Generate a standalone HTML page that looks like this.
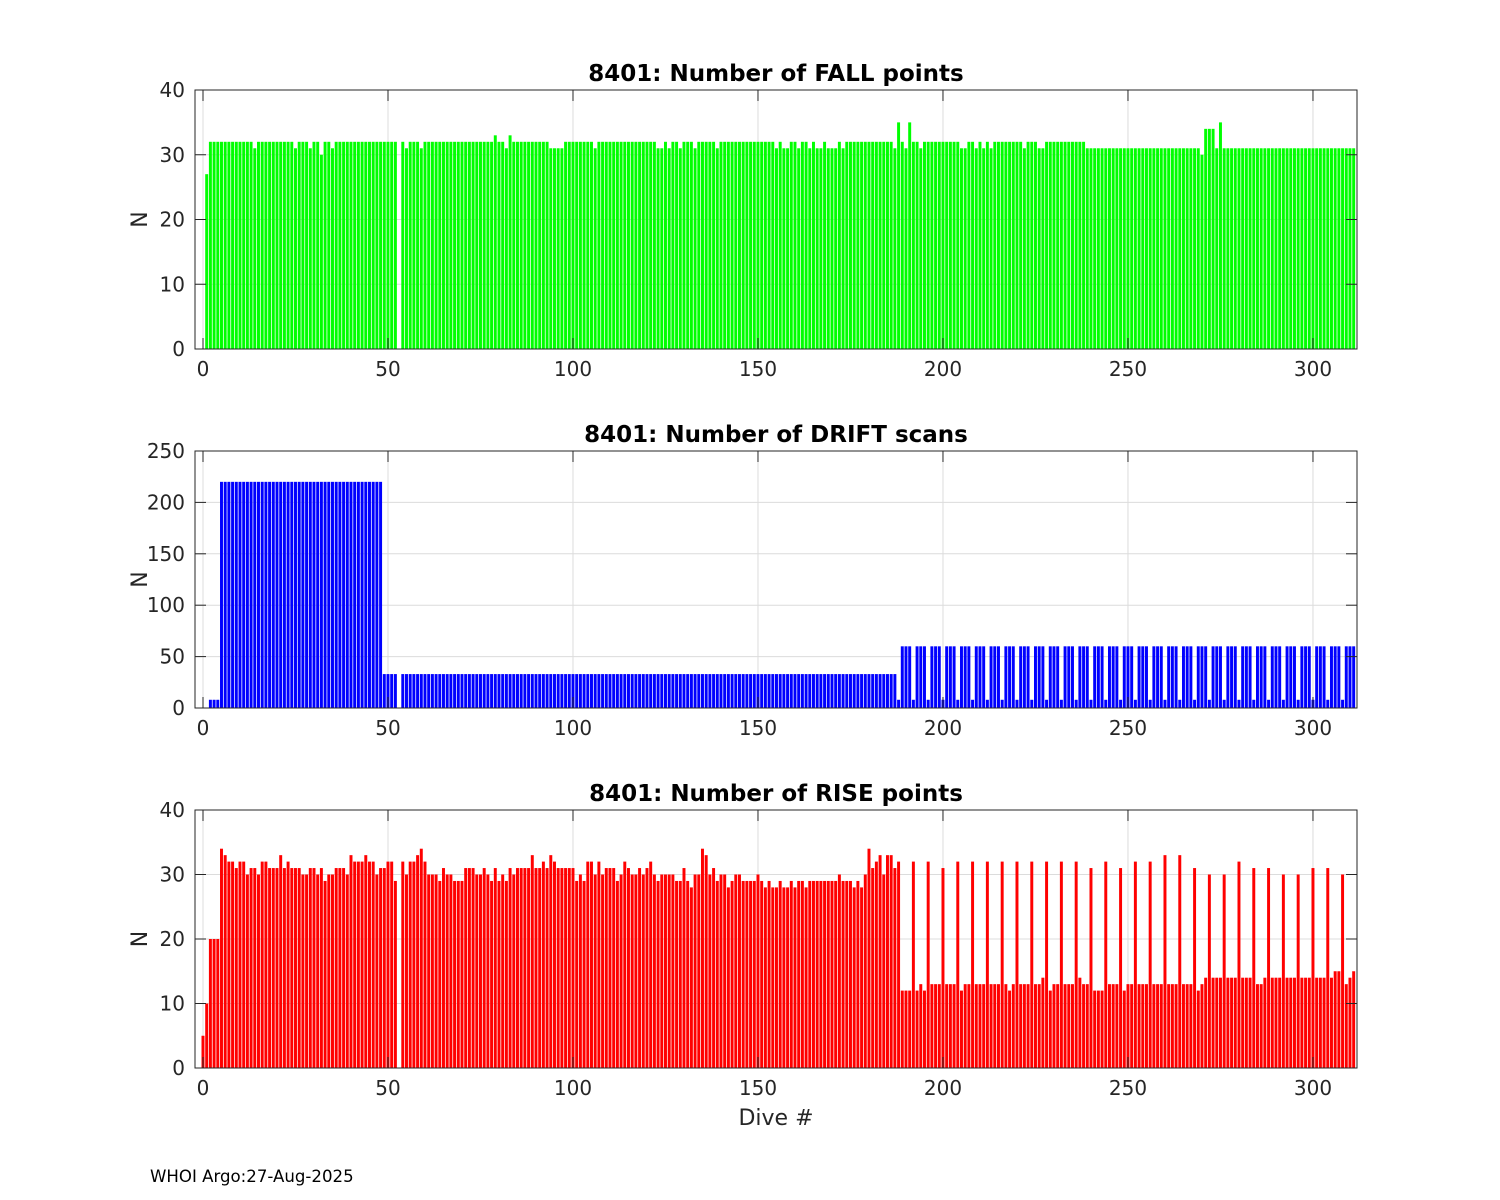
<!DOCTYPE html>
<html><head><meta charset="utf-8"><style>
html,body{margin:0;padding:0;background:#fff;}
svg{display:block;font-family:"DejaVu Sans","Liberation Sans",sans-serif;}
</style></head><body>
<svg id="fig" width="1500" height="1200" viewBox="0 0 1500 1200" xmlns="http://www.w3.org/2000/svg">
<rect x="0" y="0" width="1500" height="1200" fill="#fff"/>
<text x="150" y="1182" font-size="16.6" fill="#000">WHOI Argo:27-Aug-2025</text>
</svg>
<script>
const fallValues = [
0,27,32,32,32,32,32,32,32,32, 32,32,32,32,31,32,32,32,32,32, 32,32,32,32,32,31,32,32,32,31, 32,32,30,32,32,31,32,32,32,32,
32,32,32,32,32,32,32,32,32,32, 32,32,32,0,32,31,32,32,32,31, 32,32,32,32,32,32,32,32,32,32, 32,32,32,32,32,32,32,32,32,33,
32,32,31,33,32,32,32,32,32,32, 32,32,32,32,31,31,31,31,32,32, 32,32,32,32,32,32,31,32,32,32, 32,32,32,32,32,32,32,32,32,32,
32,32,32,31,31,32,31,32,32,31, 32,32,32,31,32,32,32,32,32,31, 32,32,32,32,32,32,32,32,32,32, 32,32,32,32,32,31,32,31,31,32,
32,31,32,32,31,32,31,31,32,31, 31,31,32,31,32,32,32,32,32,32, 32,32,32,32,32,32,32,31,35,32, 31,35,32,32,31,32,32,32,32,32,
32,32,32,32,32,31,31,32,32,31, 32,31,32,31,32,32,32,32,32,32, 32,32,31,32,32,32,31,31,32,32, 32,32,32,32,32,32,32,32,32,31,
31,31,31,31,31,31,31,31,31,31, 31,31,31,31,31,31,31,31,31,31, 31,31,31,31,31,31,31,31,31,31, 30,34,34,34,31,35,31,31,31,31,
31,31,31,31,31,31,31,31,31,31, 31,31,31,31,31,31,31,31,31,31, 31,31,31,31,31,31,31,31,31,31, 31,31];
const driftValues = [
0,0,8,8,8,220,220,220,220,220, 220,220,220,220,220,220,220,220,220,220, 220,220,220,220,220,220,220,220,220,220, 220,220,220,220,220,220,220,220,220,220,
220,220,220,220,220,220,220,220,220,33, 33,33,33,0,33,33,33,33,33,33, 33,33,33,33,33,33,33,33,33,33, 33,33,33,33,33,33,33,33,33,33,
33,33,33,33,33,33,33,33,33,33, 33,33,33,33,33,33,33,33,33,33, 33,33,33,33,33,33,33,33,33,33, 33,33,33,33,33,33,33,33,33,33,
33,33,33,33,33,33,33,33,33,33, 33,33,33,33,33,33,33,33,33,33, 33,33,33,33,33,33,33,33,33,33, 33,33,33,33,33,33,33,33,33,33,
33,33,33,33,33,33,33,33,33,33, 33,33,33,33,33,33,33,33,33,33, 33,33,33,33,33,33,33,33,8,60, 60,60,8,60,60,60,8,60,60,60,
8,60,60,60,8,60,60,60,8,60, 60,60,8,60,60,60,8,60,60,60, 8,60,60,60,8,60,60,60,8,60, 60,60,8,60,60,60,8,60,60,60,
8,60,60,60,8,60,60,60,8,60, 60,60,8,60,60,60,8,60,60,60, 8,60,60,60,8,60,60,60,8,60, 60,60,8,60,60,60,8,60,60,60,
8,60,60,60,8,60,60,60,8,60, 60,60,8,60,60,60,8,60,60,60, 8,60,60,60,8,60,60,60,8,60, 60,60];
const riseValues = [
5,10,20,20,20,34,33,32,32,31, 32,32,30,31,31,30,32,32,31,31, 31,33,31,32,31,31,31,30,30,31, 31,30,31,29,30,30,31,31,31,30,
33,32,32,32,33,32,32,30,31,31, 32,32,29,0,32,30,32,32,33,34, 32,30,30,30,29,31,30,30,29,29, 29,31,31,31,30,30,31,30,29,31,
29,30,29,31,30,31,31,31,31,33, 31,31,32,31,33,32,31,31,31,31, 31,29,30,29,32,32,30,32,30,31, 31,31,29,30,32,31,30,30,31,30,
31,32,30,29,30,30,30,30,29,29, 31,29,28,30,30,34,33,30,31,29, 30,30,28,29,30,30,29,29,29,29, 30,29,28,29,28,28,29,28,28,29,
28,29,29,28,29,29,29,29,29,29, 29,29,30,29,29,29,28,29,28,30, 34,31,32,33,30,33,33,31,32,12, 12,12,32,12,13,12,32,13,13,13,
31,13,13,13,32,12,13,13,32,13, 13,13,32,13,13,13,32,13,12,13, 32,13,13,13,32,13,13,14,32,12, 13,13,32,13,13,13,32,14,13,13,
31,12,12,12,32,13,13,13,31,12, 13,13,32,13,13,13,32,13,13,13, 33,13,13,13,33,13,13,13,31,12, 13,14,30,14,14,14,30,14,14,14,
32,14,14,14,31,13,13,14,31,14, 14,14,30,14,14,14,30,14,14,14, 31,14,14,14,31,14,15,15,30,13, 14,15];
const xTicks = [0,50,100,150,200,250,300];
const fallTicks = [0,10,20,30,40];
const driftTicks = [0,50,100,150,200,250];
const riseTicks = [0,10,20,30,40];
const titles = ["8401: Number of FALL points","8401: Number of DRIFT scans","8401: Number of RISE points"];

const NS = "http://www.w3.org/2000/svg";
const svg = document.getElementById('fig');
const X0 = 195, X1 = 1357, XMIN = -2.16, XMAX = 311.9;
function xScale(v){ return X0 + (v - XMIN) / (XMAX - XMIN) * (X1 - X0); }
function mk(tag, attrs, parent){ const e = document.createElementNS(NS, tag); for (const k in attrs) e.setAttribute(k, attrs[k]); (parent||svg).appendChild(e); return e; }

function panel(key, top, bottom, ymax, ticks, values, color, title, showXLabel){
  const g = mk('g', {});
  
  
  const yScale = v => bottom - v / ymax * (bottom - top);
  mk('rect', {x:X0, y:top, width:X1-X0, height:bottom-top, fill:'#fff'}, g);
  xTicks.forEach(t => {
    const l = mk('line', {x1:xScale(t), x2:xScale(t), y1:top, y2:bottom, stroke:'#dcdcdc', 'stroke-width':1}, g);
    
    
  });
  ticks.forEach(t => {
    const l = mk('line', {x1:X0, x2:X1, y1:yScale(t), y2:yScale(t), stroke:'#dcdcdc', 'stroke-width':1}, g);
    
    
  });
  const bw = 0.8 * (X1 - X0) / (XMAX - XMIN);
  values.forEach((v, i) => {
    if (v <= 0) return;
    const r = mk('rect', {x:xScale(i) - bw/2, y:yScale(v), width:bw, height:yScale(0) - yScale(v), fill:color}, g);
    
    
  });
  mk('rect', {x:X0, y:top, width:X1-X0, height:bottom-top, fill:'none', stroke:'#262626', 'stroke-width':1}, g);
  xTicks.forEach(t => {
    mk('line', {x1:xScale(t), x2:xScale(t), y1:bottom, y2:bottom-11, stroke:'#262626'}, g);
    mk('line', {x1:xScale(t), x2:xScale(t), y1:top, y2:top+11, stroke:'#262626'}, g);
    const tx = mk('text', {x:xScale(t), y:bottom+27, 'font-size':20, 'text-anchor':'middle', fill:'#262626'}, g);
    tx.textContent = t;
    
    
  });
  ticks.forEach(t => {
    mk('line', {x1:X0, x2:X0+11, y1:yScale(t), y2:yScale(t), stroke:'#262626'}, g);
    mk('line', {x1:X1, x2:X1-11, y1:yScale(t), y2:yScale(t), stroke:'#262626'}, g);
    const ty = mk('text', {x:X0-10, y:yScale(t)+7, 'font-size':20, 'text-anchor':'end', fill:'#262626'}, g);
    ty.textContent = t;
    
    
  });
  const tt = mk('text', {x:(X0+X1)/2, y:top-9, 'font-size':23, 'font-weight':'bold', 'text-anchor':'middle', fill:'#000'}, g);
  tt.textContent = title;
  
  
  const yl = mk('text', {x:0, y:0, 'font-size':22, 'text-anchor':'middle', fill:'#262626', transform:'translate(147,' + ((top+bottom)/2) + ') rotate(-90)'}, g);
  yl.textContent = 'N';
  
  
  if (showXLabel){
    const xl = mk('text', {x:(X0+X1)/2, y:bottom+57, 'font-size':22, 'text-anchor':'middle', fill:'#262626'}, g);
    xl.textContent = 'Dive #';
    
    
  }
}
panel('fall', 90, 349, 40, fallTicks, fallValues, '#00ff00', titles[0], false);
panel('drift', 451, 708, 250, driftTicks, driftValues, '#0000ff', titles[1], false);
panel('rise', 810, 1068, 40, riseTicks, riseValues, '#ff0000', titles[2], true);
</script>
</body></html>
